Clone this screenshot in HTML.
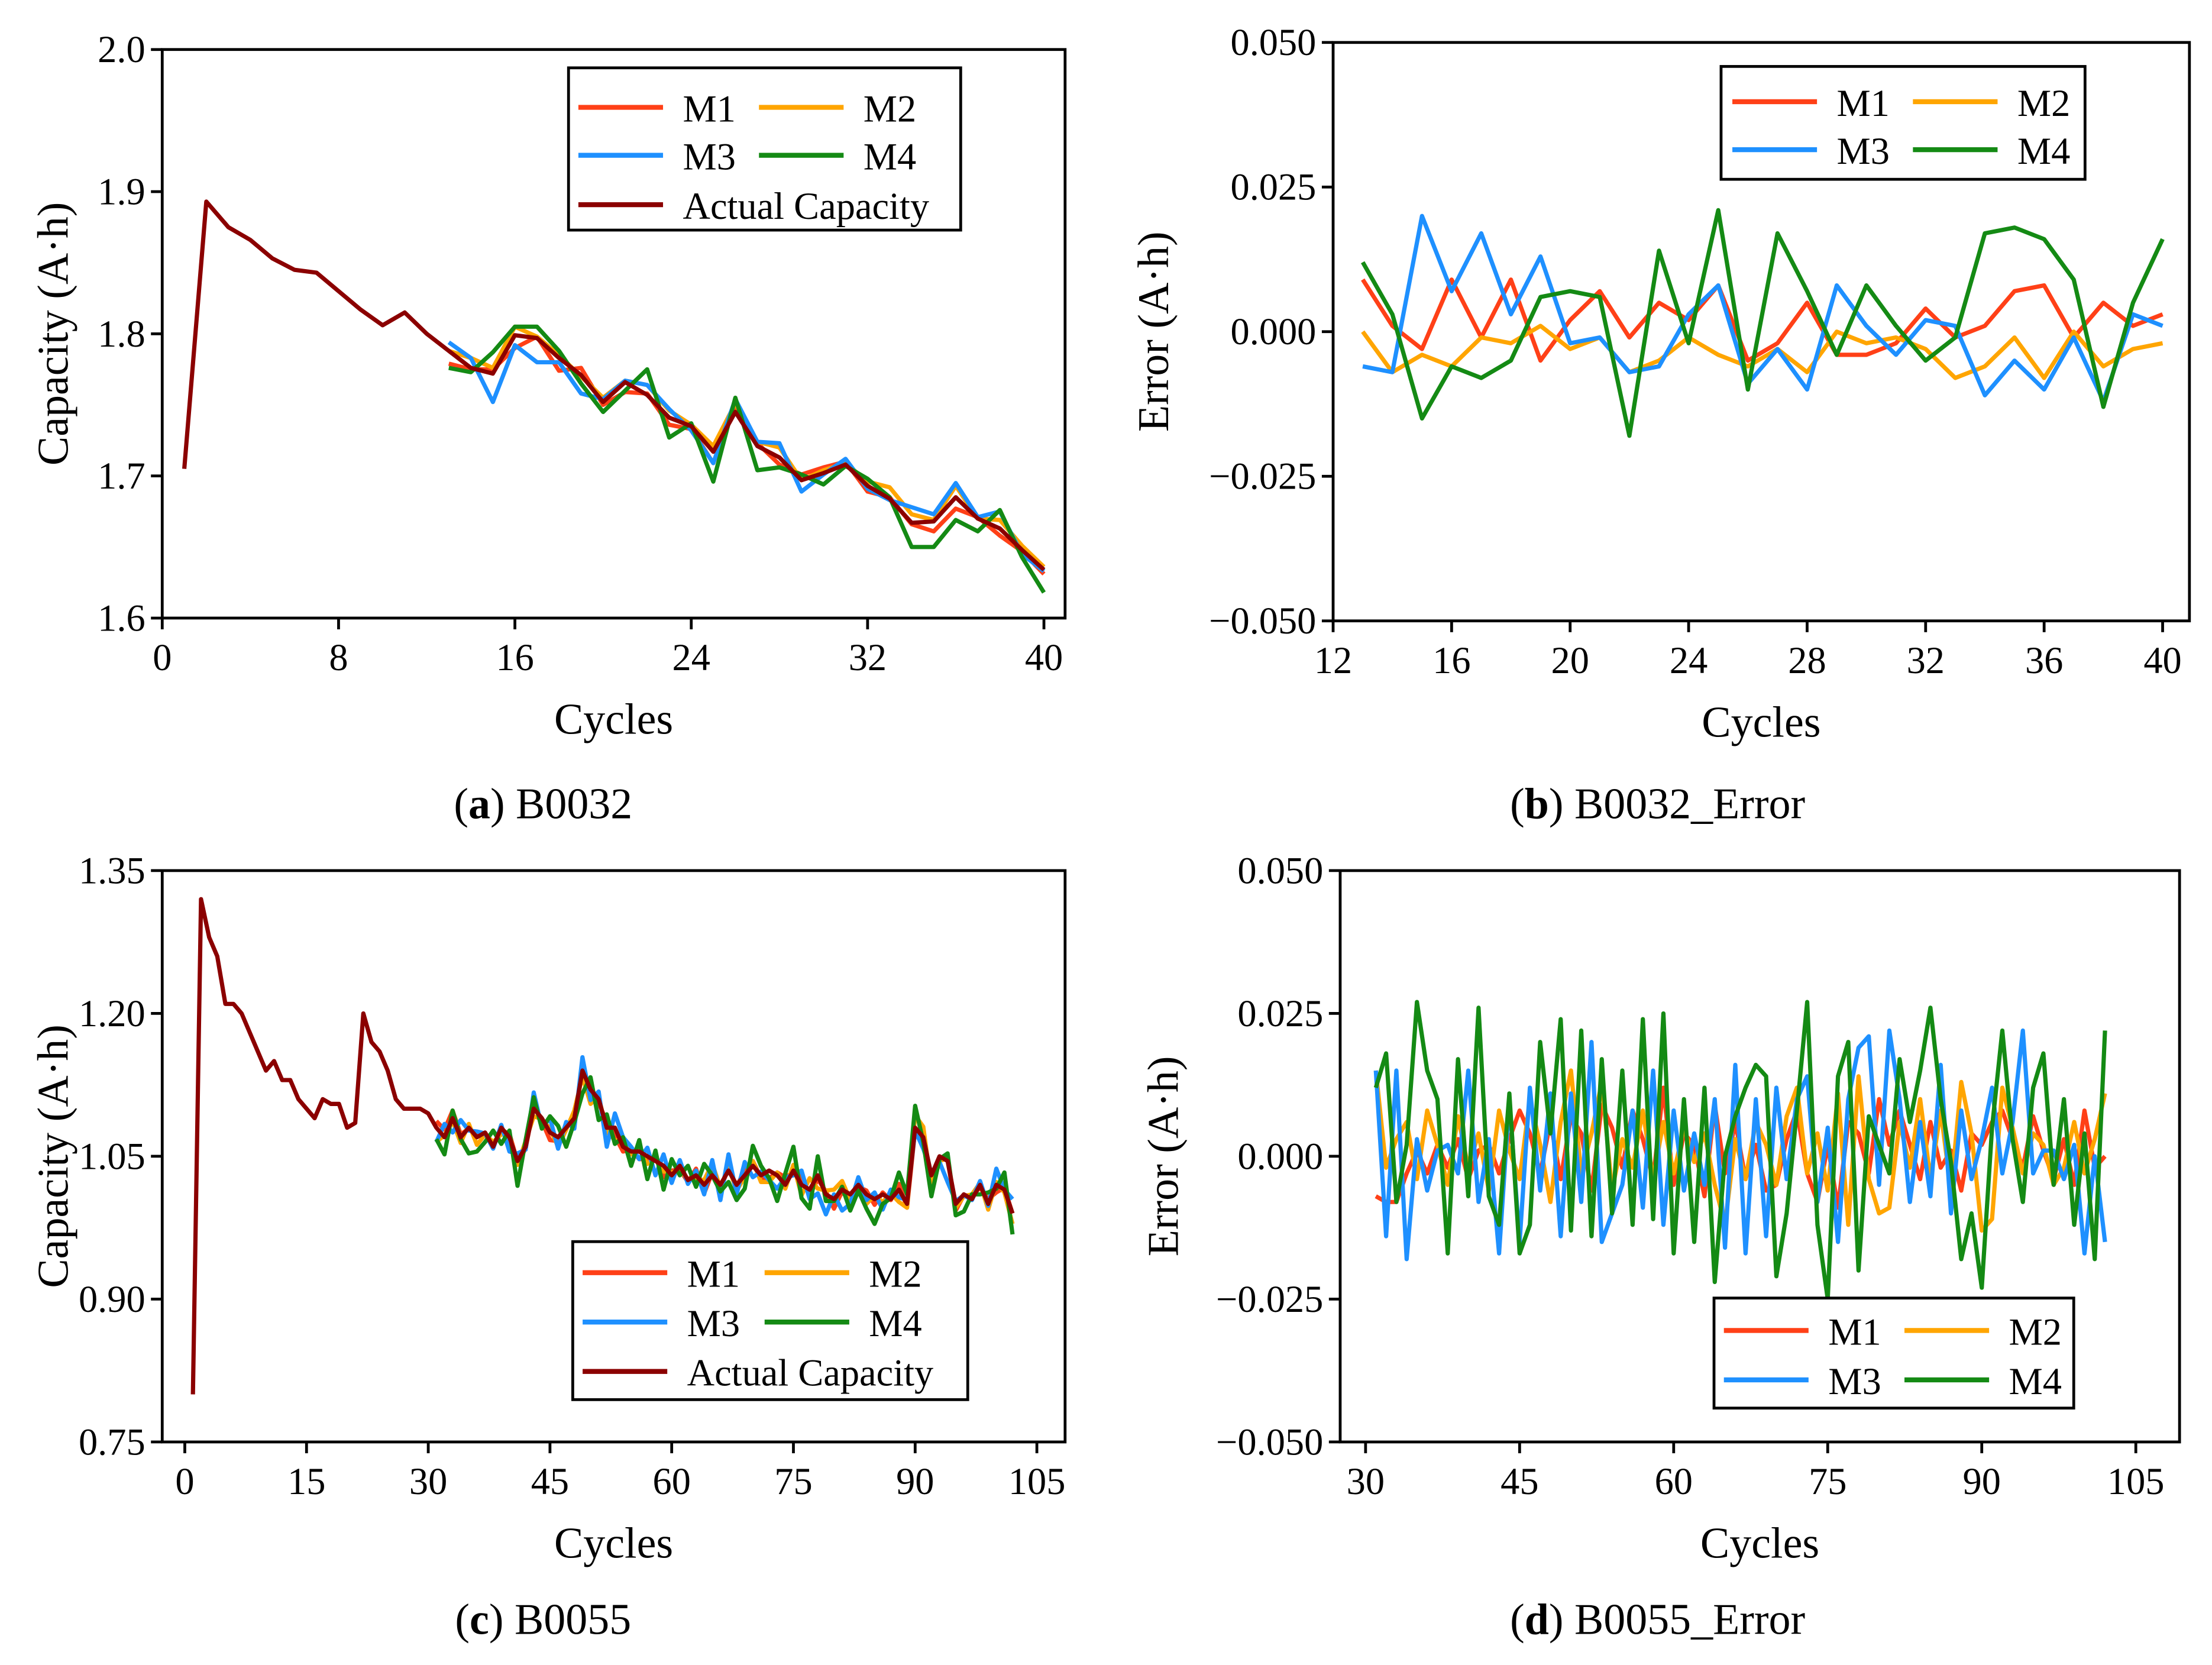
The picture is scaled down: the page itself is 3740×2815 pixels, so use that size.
<!DOCTYPE html>
<html><head><meta charset="utf-8"><style>
html,body{margin:0;padding:0;background:#fff}
svg{display:block;font-family:"Liberation Serif",serif}
svg text{font-family:"Liberation Serif",serif;fill:#000}
</style></head><body>
<svg id="fig" width="3740" height="2815" viewBox="0 0 1568 1180" font-family="Liberation Serif, serif" xmlns="http://www.w3.org/2000/svg"></svg>
<script>
// ---------- data ----------
const cyclesA = [1,2,3,4,5,6,7,8,9,10,11,12,13,14,15,16,17,18,19,20,21,22,23,24,25,26,27,28,29,30,31,32,33,34,35,36,37,38,39,40];
const actualA = [1.705,1.893,1.875,1.866,1.853,1.845,1.843,1.830,1.817,1.806,1.815,1.800,1.788,1.776,1.772,1.799,1.797,1.783,1.771,1.752,1.766,1.757,1.741,1.735,1.717,1.745,1.721,1.713,1.697,1.702,1.708,1.693,1.684,1.667,1.668,1.685,1.670,1.663,1.648,1.634];
const errStartB = 13;
const errB_M1 = [0.009,0.001,-0.003,0.009,-0.001,0.009,-0.005,0.002,0.007,-0.001,0.005,0.002,0.008,-0.005,-0.002,0.005,-0.004,-0.004,-0.002,0.004,-0.001,0.001,0.007,0.008,-0.001,0.005,0.001,0.003];
const errB_M2 = [0,-0.007,-0.004,-0.006,-0.001,-0.002,0.001,-0.003,-0.001,-0.007,-0.005,-0.001,-0.004,-0.006,-0.003,-0.007,0,-0.002,-0.001,-0.003,-0.008,-0.006,-0.001,-0.008,0,-0.006,-0.003,-0.002];
const errB_M3 = [-0.006,-0.007,0.02,0.007,0.017,0.003,0.013,-0.002,-0.001,-0.007,-0.006,0.003,0.008,-0.009,-0.003,-0.01,0.008,0.001,-0.004,0.002,0.001,-0.011,-0.005,-0.01,-0.001,-0.012,0.003,0.001];
const errB_M4 = [0.012,0.003,-0.015,-0.006,-0.008,-0.005,0.006,0.007,0.006,-0.018,0.014,-0.002,0.021,-0.01,0.017,0.007,-0.004,0.008,0.001,-0.005,-0.001,0.017,0.018,0.016,0.009,-0.013,0.005,0.016];

const actualC = [0.80,1.32,1.28,1.26,1.21,1.21,1.20,1.18,1.16,1.14,1.15,1.13,1.13,1.11,1.10,1.09,1.11,1.105,1.105,1.08,1.085,1.20,1.17,1.16,1.14,1.11,1.10,1.10,1.10,1.095,1.08,1.07,1.09,1.07,1.08,1.07,1.075,1.06,1.08,1.07,1.045,1.06,1.10,1.09,1.075,1.07,1.08,1.09,1.14,1.12,1.11,1.08,1.08,1.06,1.055,1.055,1.05,1.045,1.04,1.03,1.04,1.025,1.03,1.02,1.03,1.02,1.035,1.02,1.03,1.04,1.03,1.035,1.03,1.02,1.035,1.02,1.015,1.03,1.01,1.005,1.015,1.01,1.02,1.01,1.005,1.01,1.005,1.015,1.0,1.08,1.07,1.03,1.05,1.045,1.0,1.01,1.005,1.02,1.0,1.02,1.015,0.99];
const errStartD = 31;
const errD_M1 = [-0.007,-0.008,-0.008,-0.003,0.001,-0.003,0.002,-0.002,0.003,-0.004,0.001,0.002,-0.003,0.003,0.008,0.004,-0.003,0.006,-0.004,0.007,0.004,-0.006,0.009,0.005,-0.002,0.008,0.003,-0.004,0.012,-0.005,0.004,0.002,-0.007,0.009,-0.003,0.006,-0.004,0.002,-0.006,-0.005,0.003,0.008,-0.003,-0.008,0.002,-0.009,0.006,0.004,-0.003,0.010,0.002,0.008,0.002,-0.004,0.006,-0.002,0.001,-0.006,0.004,0.002,0.006,0.008,0.003,-0.002,0.007,0.001,-0.004,0.003,-0.005,0.008,-0.002,0.000];
const errD_M2 = [0.015,-0.002,0.003,0.006,-0.004,0.008,0.002,-0.005,0.007,-0.002,0.004,-0.006,0.008,0.001,-0.004,0.010,0.002,-0.008,0.006,0.015,-0.003,0.004,0.013,-0.006,0.003,-0.002,0.008,-0.004,0.006,-0.003,0.005,-0.001,0.004,-0.005,-0.012,0.003,-0.004,0.006,0.002,-0.005,0.007,0.012,-0.003,0.004,-0.006,0.011,-0.012,0.014,-0.004,-0.010,-0.009,0.006,-0.002,0.010,-0.004,0.008,-0.006,0.013,0.004,-0.013,-0.011,0.012,0.005,-0.003,0.004,0.002,-0.005,-0.002,0.006,-0.003,0.003,0.011];
const errD_M3 = [0.015,-0.014,0.015,-0.018,0.003,-0.006,0.001,0.002,-0.003,0.015,-0.008,0.003,-0.017,0.010,-0.015,0.012,-0.006,0.011,-0.014,0.011,-0.008,0.020,-0.015,-0.010,-0.005,0.008,-0.009,0.015,-0.012,0.008,-0.006,0.004,-0.005,0.010,-0.016,0.016,-0.017,0.010,-0.014,0.012,-0.004,0.010,0.014,-0.008,0.005,-0.015,0.010,0.019,0.021,-0.005,0.022,0.010,-0.008,0.006,-0.007,0.016,-0.010,0.008,-0.004,0.003,0.012,-0.003,0.006,0.022,-0.003,0.001,0.001,-0.004,0.002,-0.017,0.000,-0.015];
const errD_M4 = [0.012,0.018,-0.008,0.002,0.027,0.015,0.010,-0.017,0.017,-0.007,0.026,-0.007,-0.012,0.011,-0.017,-0.012,0.020,0.004,0.024,-0.013,0.022,-0.014,0.017,-0.010,0.015,-0.012,0.024,-0.011,0.025,-0.017,0.010,-0.015,0.012,-0.022,0.000,0.007,0.012,0.016,0.014,-0.021,-0.010,0.008,0.027,-0.012,-0.025,0.014,0.020,-0.020,0.007,0.002,-0.003,0.017,0.006,0.015,0.026,0.010,-0.001,-0.018,-0.010,-0.023,0.005,0.022,0.003,-0.008,0.012,0.018,-0.005,0.010,-0.012,0.004,-0.018,0.022];

const ticksAx = [0,8,16,24,32,40];
const ticksAy = [1.6,1.7,1.8,1.9,2.0];
const ticksBx = [12,16,20,24,28,32,36,40];
const ticksErr = [-0.05,-0.025,0,0.025,0.05];
const ticksCx = [0,15,30,45,60,75,90,105];
const ticksCy = [0.75,0.90,1.05,1.20,1.35];
const ticksDx = [30,45,60,75,90,105];

const COL = {M1:'#ff4017',M2:'#ffa500',M3:'#1e90ff',M4:'#148a14',ACT:'#8b0000'};
const FF = '"Liberation Serif", serif';
// ---------- helpers ----------
const NS='http://www.w3.org/2000/svg';
const svg=document.getElementById('fig');
function el(tag,attrs,parent){const e=document.createElementNS(NS,tag);for(const k in attrs)e.setAttribute(k,attrs[k]);if(tag==='text')e.setAttribute('style','font-family:'+FF);(parent||svg).appendChild(e);return e;}
function scale(d0,d1,p0,p1){return v=>p0+(v-d0)*(p1-p0)/(d1-d0);}
function fmtErr(v){if(v===0)return '0.000';return (v<0?'\u2212':'')+Math.abs(v).toFixed(3);}

function panel(o){
  const g=el('g',{});
  
  
  const X=scale(o.xd[0],o.xd[1],o.xp[0],o.xp[1]);
  const Y=scale(o.yd[0],o.yd[1],o.yp[0],o.yp[1]);
  o.series.forEach(s=>{
    const pts=s.xs.map((x,i)=>X(x).toFixed(2)+','+Y(s.ys[i]).toFixed(2)).join(' ');
    const p=el('polyline',{points:pts,fill:'none',stroke:s.color,'stroke-width':3,'stroke-linejoin':'round'},g);
    
    
  });
  const f=el('rect',{x:o.box[0],y:o.box[1],width:o.box[2]-o.box[0],height:o.box[3]-o.box[1],fill:'none',stroke:'#000','stroke-width':2},g);
  
  
  o.xt.forEach(t=>{
    const x=X(t);
    el('line',{x1:x,x2:x,y1:o.box[3],y2:o.box[3]+8,stroke:'#000','stroke-width':2},g);
    const tx=el('text',{x:x,y:o.box[3]+37,'font-size':27,'text-anchor':'middle'},g);
    tx.textContent=String(t);
    
    
  });
  o.yt.forEach(t=>{
    const y=Y(t);
    el('line',{x1:o.box[0]-8,x2:o.box[0],y1:y,y2:y,stroke:'#000','stroke-width':2},g);
    const tx=el('text',{x:o.box[0]-12,y:y+9,'font-size':27,'text-anchor':'end'},g);
    tx.textContent=o.yfmt(t);
    
    
  });
  const xl=el('text',{x:(o.box[0]+o.box[2])/2,y:o.box[3]+82,'font-size':31,'text-anchor':'middle'},g);
  xl.textContent='Cycles';
  
  
  const yl=el('text',{x:0,y:0,'font-size':31,'text-anchor':'middle',transform:`translate(${o.ylx},${(o.box[1]+o.box[3])/2}) rotate(-90)`},g);
  yl.textContent=o.ylabel;
  
  
  const L=o.legend;
  const lg=el('g',{},g);
  
  
  el('rect',{x:L.x,y:L.y,width:L.w,height:L.h,fill:'#fff',stroke:'#000','stroke-width':2},lg);
  L.items.forEach(it=>{
    const e=el('g',{},lg);
    
    
    el('line',{x1:it.x,x2:it.x+60,y1:it.y,y2:it.y,stroke:it.color,'stroke-width':3.5},e);
    const t=el('text',{x:it.x+74,y:it.y+10,'font-size':27},e);
    t.textContent=it.label;
  });
  const cap=el('text',{x:o.cap[0],y:o.cap[1],'font-size':31,'text-anchor':'middle'},g);
  
  
  cap.innerHTML=o.capHTML;
}
function range(start,n){const a=[];for(let i=0;i<n;i++)a.push(start+i);return a;}
function pred(actual,cycStart,err,startCycle){return err.map((e,i)=>actual[startCycle-cycStart+i]-e);}

const xsB=range(errStartB,errB_M1.length);
panel({name:'panel-a-b0032',box:[115,35,755,438],xd:[0,40],xp:[115,740],yd:[1.6,2.0],yp:[438,35],
  xt:ticksAx,yt:ticksAy,yfmt:v=>v.toFixed(1),ylx:48,ylabel:'Capacity (A\u00b7h)',
  series:[
    {name:'m1-line',color:COL.M1,xs:xsB,ys:pred(actualA,1,errB_M1,errStartB)},
    {name:'m2-line',color:COL.M2,xs:xsB,ys:pred(actualA,1,errB_M2,errStartB)},
    {name:'m3-line',color:COL.M3,xs:xsB,ys:pred(actualA,1,errB_M3,errStartB)},
    {name:'m4-line',color:COL.M4,xs:xsB,ys:pred(actualA,1,errB_M4,errStartB)},
    {name:'actual-capacity-line',color:COL.ACT,xs:cyclesA,ys:actualA}],
  legend:{x:403,y:48,w:278,h:115,items:[
    {x:410,y:76,color:COL.M1,label:'M1'},{x:538,y:76,color:COL.M2,label:'M2'},
    {x:410,y:110,color:COL.M3,label:'M3'},{x:538,y:110,color:COL.M4,label:'M4'},
    {x:410,y:145,color:COL.ACT,label:'Actual Capacity'}]},
  cap:[385,580],capHTML:'(<tspan font-weight="bold">a</tspan>) B0032'});

panel({name:'panel-b-b0032-error',box:[945,30,1552,440],xd:[12,40],xp:[945,1533],yd:[-0.05,0.05],yp:[440,30],
  xt:ticksBx,yt:ticksErr,yfmt:fmtErr,ylx:828,ylabel:'Error (A\u00b7h)',
  series:[
    {name:'m1-error-line',color:COL.M1,xs:xsB,ys:errB_M1},
    {name:'m2-error-line',color:COL.M2,xs:xsB,ys:errB_M2},
    {name:'m3-error-line',color:COL.M3,xs:xsB,ys:errB_M3},
    {name:'m4-error-line',color:COL.M4,xs:xsB,ys:errB_M4}],
  legend:{x:1220,y:47,w:258,h:80,items:[
    {x:1228,y:72,color:COL.M1,label:'M1'},{x:1356,y:72,color:COL.M2,label:'M2'},
    {x:1228,y:106,color:COL.M3,label:'M3'},{x:1356,y:106,color:COL.M4,label:'M4'}]},
  cap:[1175,580],capHTML:'(<tspan font-weight="bold">b</tspan>) B0032_Error'});

const cyclesC=range(1,actualC.length);
function xsFor(arr){return range(errStartD,arr.length).filter(x=>x<=actualC.length);}
function predC(err){const xs=xsFor(err);return xs.map((x,i)=>actualC[x-1]-err[i]);}
panel({name:'panel-c-b0055',box:[115,617,755,1022],xd:[0,105],xp:[131,735],yd:[0.75,1.35],yp:[1022,617],
  xt:ticksCx,yt:ticksCy,yfmt:v=>v.toFixed(2),ylx:48,ylabel:'Capacity (A\u00b7h)',
  series:[
    {name:'m1-line',color:COL.M1,xs:xsFor(errD_M1),ys:predC(errD_M1)},
    {name:'m2-line',color:COL.M2,xs:xsFor(errD_M2),ys:predC(errD_M2)},
    {name:'m3-line',color:COL.M3,xs:xsFor(errD_M3),ys:predC(errD_M3)},
    {name:'m4-line',color:COL.M4,xs:xsFor(errD_M4),ys:predC(errD_M4)},
    {name:'actual-capacity-line',color:COL.ACT,xs:cyclesC,ys:actualC}],
  legend:{x:406,y:880,w:280,h:112,items:[
    {x:413,y:902,color:COL.M1,label:'M1'},{x:542,y:902,color:COL.M2,label:'M2'},
    {x:413,y:937,color:COL.M3,label:'M3'},{x:542,y:937,color:COL.M4,label:'M4'},
    {x:413,y:972,color:COL.ACT,label:'Actual Capacity'}]},
  cap:[385,1158],capHTML:'(<tspan font-weight="bold">c</tspan>) B0055'});

panel({name:'panel-d-b0055-error',box:[950,617,1545,1022],xd:[30,105],xp:[968,1514],yd:[-0.05,0.05],yp:[1022,617],
  xt:ticksDx,yt:ticksErr,yfmt:fmtErr,ylx:835,ylabel:'Error (A\u00b7h)',
  series:[
    {name:'m1-error-line',color:COL.M1,xs:xsFor(errD_M1),ys:errD_M1.slice(0,xsFor(errD_M1).length)},
    {name:'m2-error-line',color:COL.M2,xs:xsFor(errD_M2),ys:errD_M2.slice(0,xsFor(errD_M2).length)},
    {name:'m3-error-line',color:COL.M3,xs:xsFor(errD_M3),ys:errD_M3.slice(0,xsFor(errD_M3).length)},
    {name:'m4-error-line',color:COL.M4,xs:xsFor(errD_M4),ys:errD_M4.slice(0,xsFor(errD_M4).length)}],
  legend:{x:1215,y:920,w:255,h:78,items:[
    {x:1222,y:943,color:COL.M1,label:'M1'},{x:1350,y:943,color:COL.M2,label:'M2'},
    {x:1222,y:978,color:COL.M3,label:'M3'},{x:1350,y:978,color:COL.M4,label:'M4'}]},
  cap:[1175,1158],capHTML:'(<tspan font-weight="bold">d</tspan>) B0055_Error'});
</script>
</body></html>
